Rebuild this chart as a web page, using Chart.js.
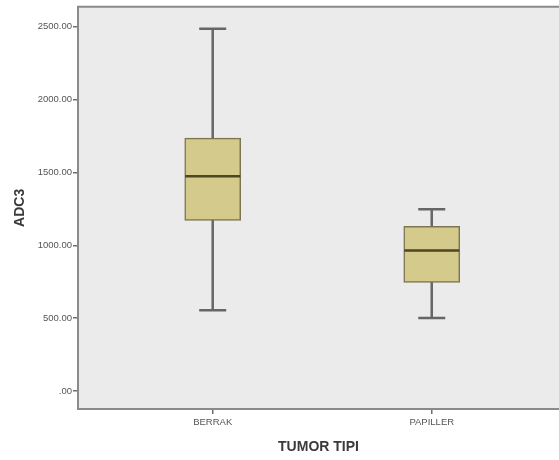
<!DOCTYPE html>
<html>
<head>
<meta charset="utf-8">
<title>ADC3 - TUMOR TIPI</title>
<script src="https://cdn.jsdelivr.net/npm/chart.js@4.4.1/dist/chart.umd.min.js"></script>
<style>
  html, body { margin: 0; padding: 0; background: #ffffff; overflow: hidden; }
  #wrap { width: 559px; height: 460px; }
</style>
</head>
<body>
<div id="wrap"><canvas id="myChart" width="559" height="460"></canvas></div>
<script>
// Tumour groups and their box-plot statistics (ADC3)
const categories = ['BERRAK', 'PAPILLER'];
const whiskerLow = [555, 502];
const quartile1 = [1171, 745];
const medians = [1473, 964];
const quartile3 = [1735, 1130];
const whiskerHigh = [2485, 1247];

// Y axis ticks, SPSS style labels
const yTickValues = [0, 500, 1000, 1500, 2000, 2500];
const yTickLabels = ['.00', '500.00', '1000.00', '1500.00', '2000.00', '2500.00'];

const FONT = "'Liberation Sans', Arial, sans-serif";
const ctx = document.getElementById('myChart');

// grey plot background + frame (top, left, bottom only; right side runs off the page)
const framePlugin = {
    id: 'frame',
    beforeDraw(chart) {
        const a = chart.chartArea, c = chart.ctx;
        c.save();
        c.fillStyle = '#ebebeb';
        c.fillRect(a.left, a.top, a.right - a.left, a.bottom - a.top);
        c.restore();
    },
    afterDraw(chart) {
        const a = chart.chartArea, c = chart.ctx;
        c.save();
        c.strokeStyle = '#8a8a8a';
        c.lineWidth = 2;
        c.beginPath();
        c.moveTo(a.right + 2, a.top);
        c.lineTo(a.left, a.top);
        c.lineTo(a.left, a.bottom);
        c.lineTo(a.right + 2, a.bottom);
        c.stroke();
        c.restore();
    }
};

// whiskers under the boxes, median line on top
const boxPlugin = {
    id: 'boxparts',
    beforeDatasetsDraw(chart) {
        const x = chart.scales.x, y = chart.scales.y, c = chart.ctx;
        c.save();
        c.strokeStyle = '#666666';
        c.lineWidth = 2.5;
        categories.forEach((name, i) => {
            const px = x.getPixelForValue(i);
            const top = y.getPixelForValue(whiskerHigh[i]);
            const bot = y.getPixelForValue(whiskerLow[i]);
            c.beginPath();
            c.moveTo(px, top); c.lineTo(px, bot);
            c.moveTo(px - 13.5, top); c.lineTo(px + 13.5, top);
            c.moveTo(px - 13.5, bot); c.lineTo(px + 13.5, bot);
            c.stroke();
        });
        c.restore();
    },
    afterDatasetsDraw(chart) {
        const x = chart.scales.x, y = chart.scales.y, c = chart.ctx;
        c.save();
        c.strokeStyle = '#4b4720';
        c.lineWidth = 2.5;
        categories.forEach((name, i) => {
            const px = x.getPixelForValue(i);
            const py = y.getPixelForValue(medians[i]);
            c.beginPath();
            c.moveTo(px - 27.5, py); c.lineTo(px + 27.5, py);
            c.stroke();
        });
        c.restore();
    }
};

const myChart = new Chart(ctx, {
    type: 'bar',
    data: {
        datasets: [{
            label: 'ADC3',
            data: categories.map((name, i) => ({ x: i, y: [quartile1[i], quartile3[i]] })),
            backgroundColor: '#d3ca8c',
            borderColor: '#7d7450',
            borderWidth: 1.5,
            borderSkipped: false,
            barThickness: 56
        }]
    },
    plugins: [framePlugin, boxPlugin],
    options: {
        responsive: false,
        animation: false,
        layout: { padding: { top: 6, right: 0, left: 0, bottom: 0 } },
        plugins: {
            legend: { display: false },
            tooltip: { enabled: false }
        },
        scales: {
            x: {
                type: 'linear',
                offset: false,
                min: -0.615,
                max: 1.581,
                afterBuildTicks: (scale) => { scale.ticks = categories.map((n, i) => ({ value: i })); },
                afterFit: (scale) => { scale.height = 51; },
                border: { display: false },
                grid: { offset: false, drawOnChartArea: false, drawTicks: true, tickLength: 5, tickColor: '#6e6e6e', lineWidth: 1.5 },
                ticks: {
                    callback: (v) => categories[v],
                    autoSkip: false,
                    maxRotation: 0,
                    padding: 3,
                    color: '#555555',
                    font: { family: FONT, size: 9.5 }
                },
                title: {
                    display: true,
                    text: 'TUMOR TIPI',
                    color: '#3a3a3a',
                    font: { family: FONT, size: 14, weight: 'bold' },
                    padding: { top: 0, bottom: 4.5 }
                }
            },
            y: {
                min: -123,
                max: 2637,
                afterBuildTicks: (scale) => { scale.ticks = yTickValues.map(v => ({ value: v })); },
                afterFit: (scale) => { scale.width = 78; },
                border: { display: false },
                grid: { drawOnChartArea: false, drawTicks: true, tickLength: 5, tickColor: '#6e6e6e', lineWidth: 1.5 },
                ticks: {
                    callback: (v) => yTickLabels[yTickValues.indexOf(v)],
                    padding: 1,
                    color: '#555555',
                    font: { family: FONT, size: 9.5 }
                },
                title: {
                    display: true,
                    text: 'ADC3',
                    color: '#3a3a3a',
                    font: { family: FONT, size: 14, weight: 'bold' },
                    padding: { top: 11.5, bottom: 0 }
                }
            }
        }
    }
});
</script>
</body>
</html>
